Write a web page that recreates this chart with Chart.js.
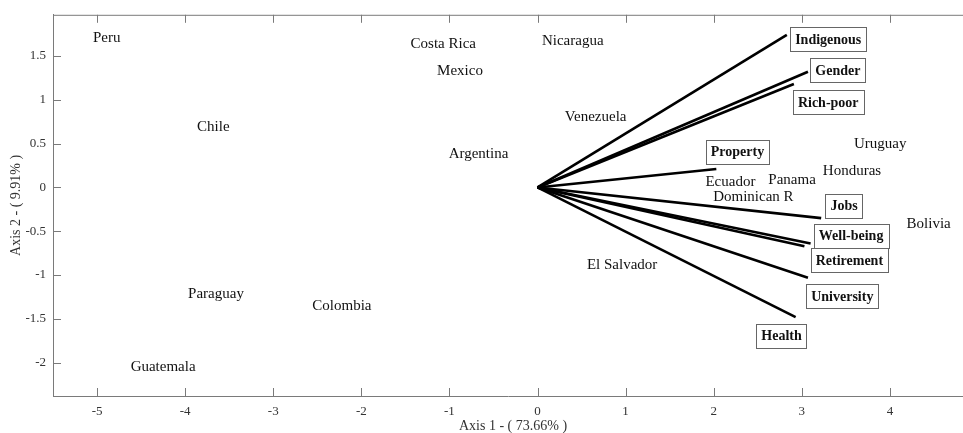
<!DOCTYPE html>
<html>
<head>
<meta charset="utf-8">
<script src="https://cdn.jsdelivr.net/npm/chart.js@4.4.1/dist/chart.umd.min.js"></script>
<style>
  html, body { margin: 0; padding: 0; background: #fff; }
  #wrap { width: 963px; height: 433px; }
</style>
</head>
<body>
<div id="wrap"><canvas id="biplot" width="963" height="433"></canvas></div>
<script>
// countries (scores on axis 1 / axis 2)
const countries = ['Peru', 'Chile', 'Paraguay', 'Guatemala', 'Colombia', 'Costa Rica', 'Mexico',
  'Nicaragua', 'Venezuela', 'Argentina', 'El Salvador', 'Uruguay', 'Honduras', 'Panama',
  'Ecuador', 'Dominican R', 'Bolivia'];
const countryX = [-4.89, -3.68, -3.65, -4.25, -2.22, -1.07, -0.88, 0.40, 0.66, -0.67, 0.96,
  3.89, 3.57, 2.89, 2.19, 2.45, 4.44];
const countryY = [1.70, 0.69, -1.22, -2.05, -1.35, 1.64, 1.33, 1.67, 0.80, 0.38, -0.89,
  0.49, 0.19, 0.08, 0.06, -0.11, -0.42];

// variables (loading vectors)
const variables = ['Indigenous', 'Gender', 'Rich-poor', 'Property', 'Jobs', 'Well-being',
  'Retirement', 'University', 'Health'];
const varX = [2.83, 3.07, 2.91, 2.03, 3.22, 3.10, 3.03, 3.07, 2.93];
const varY = [1.74, 1.32, 1.18, 0.21, -0.35, -0.64, -0.67, -1.03, -1.48];
// where the boxed names sit
const labelX = [3.30, 3.41, 3.30, 2.27, 3.48, 3.56, 3.54, 3.46, 2.77];
const labelY = [1.69, 1.34, 0.97, 0.41, -0.21, -0.55, -0.83, -1.24, -1.69];

const xTicks = [-5, -4, -3, -2, -1, 0, 1, 2, 3, 4];
const yTicks = [-2, -1.5, -1, -0.5, 0, 0.5, 1, 1.5];

const serif = '"Liberation Serif", "Times New Roman", serif';
const axisColor = '#7a7a7a';

const datasets = [{
  label: 'countries',
  data: countries.map((c, i) => ({ x: countryX[i], y: countryY[i] })),
  pointRadius: 0,
  showLine: false
}];
variables.forEach((v, i) => {
  datasets.push({
    label: v,
    data: [{ x: 0, y: 0 }, { x: varX[i], y: varY[i] }],
    showLine: true,
    borderColor: '#000',
    borderWidth: 2.6,
    pointRadius: 0,
    borderCapStyle: 'butt'
  });
});

// inner tick marks, top frame line, labels and axis titles
const biplotDecor = {
  id: 'biplotDecor',
  afterDatasetsDraw(chart) {
    const { ctx, chartArea: a, scales: { x, y } } = chart;
    ctx.save();
    ctx.strokeStyle = axisColor;
    ctx.lineWidth = 1;
    ctx.beginPath();
    ctx.moveTo(a.left, a.top + 0.5);
    ctx.lineTo(a.right, a.top + 0.5);
    xTicks.forEach(t => {
      const px = Math.round(x.getPixelForValue(t)) + 0.5;
      ctx.moveTo(px, a.bottom); ctx.lineTo(px, a.bottom - 8);
      ctx.moveTo(px, a.top); ctx.lineTo(px, a.top + 8);
    });
    yTicks.forEach(t => {
      const py = Math.round(y.getPixelForValue(t)) + 0.5;
      ctx.moveTo(a.left, py); ctx.lineTo(a.left + 8, py);
    });
    ctx.stroke();

    // country names
    ctx.fillStyle = '#111';
    ctx.font = '15px ' + serif;
    ctx.textAlign = 'center';
    ctx.textBaseline = 'middle';
    const meta = chart.getDatasetMeta(0);
    meta.data.forEach((pt, i) => {
      ctx.fillText(countries[i], pt.x, pt.y);
    });

    // boxed variable names
    ctx.font = 'bold 14px ' + serif;
    variables.forEach((v, i) => {
      const cx = x.getPixelForValue(labelX[i]);
      const cy = y.getPixelForValue(labelY[i]);
      const w = ctx.measureText(v).width + 10;
      const h = 24;
      ctx.fillStyle = '#fff';
      ctx.fillRect(cx - w / 2, cy - h / 2, w, h);
      ctx.strokeStyle = '#666';
      ctx.lineWidth = 1;
      ctx.strokeRect(Math.round(cx - w / 2) + 0.5, Math.round(cy - h / 2) + 0.5, Math.round(w), h);
      ctx.fillStyle = '#111';
      ctx.fillText(v, cx, cy + 1);
    });

    // axis titles
    ctx.font = '14px ' + serif;
    ctx.fillStyle = '#333';
    ctx.fillText('Axis 1 - ( 73.66% )', (a.left + a.right) / 2 + 5, a.bottom + 30);
    ctx.translate(16, (a.top + a.bottom) / 2);
    ctx.rotate(-Math.PI / 2);
    ctx.fillText('Axis 2 - ( 9.91% )', 0, 0);
    ctx.restore();
  }
};

new Chart(document.getElementById('biplot'), {
  type: 'scatter',
  data: { datasets },
  options: {
    responsive: false,
    animation: false,
    layout: { padding: { top: 14, left: 0, right: 0, bottom: 0 } },
    plugins: { legend: { display: false }, tooltip: { enabled: false } },
    scales: {
      x: {
        type: 'linear',
        min: -5.5,
        max: 4.83,
        grid: { display: false, drawTicks: false },
        border: { display: true, color: axisColor, width: 1 },
        ticks: {
          stepSize: 1,
          includeBounds: false,
          autoSkip: false,
          padding: 8,
          color: '#333',
          font: { family: serif, size: 13 },
          callback: v => String(v)
        },
        afterFit(scale) { scale.height = 37; }
      },
      y: {
        type: 'linear',
        min: -2.38,
        max: 1.97,
        grid: { display: false, drawTicks: false },
        border: { display: true, color: axisColor, width: 1 },
        ticks: {
          stepSize: 0.5,
          includeBounds: false,
          autoSkip: false,
          padding: 7,
          color: '#333',
          font: { family: serif, size: 13 },
          callback: v => String(v)
        },
        afterFit(scale) { scale.width = 53; }
      }
    }
  },
  plugins: [biplotDecor]
});
</script>
</body>
</html>
